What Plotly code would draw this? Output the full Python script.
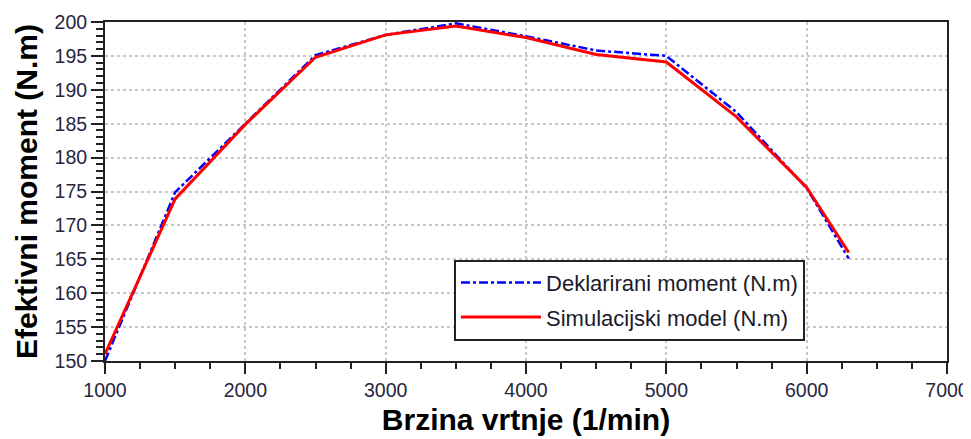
import plotly.graph_objects as go

rpm = [1000, 1500, 2000, 2500, 3000, 3500, 4000, 4500, 5000, 5500, 6000, 6300]
declared = [150.0, 174.9, 185.0, 195.1, 198.1, 199.8, 197.9, 195.8, 195.0, 186.7, 175.5, 165.1]
simulated = [151.0, 173.9, 184.9, 194.8, 198.1, 199.4, 197.7, 195.2, 194.1, 186.0, 175.6, 166.0]

x_ticks = [1000, 2000, 3000, 4000, 5000, 6000, 7000]
y_ticks = [150, 155, 160, 165, 170, 175, 180, 185, 190, 195, 200]

fig = go.Figure()
fig.add_trace(go.Scatter(
    x=rpm, y=declared, mode="lines", name="Deklarirani moment (N.m)",
    line=dict(color="#0000ff", width=2.5, dash="dashdot"), legendgroup="a"))
fig.add_trace(go.Scatter(
    x=rpm, y=simulated, mode="lines", name="Simulacijski model (N.m)",
    line=dict(color="#ff0000", width=3), legendgroup="b"))

FAM = "Liberation Sans, Arial, sans-serif"
tickfont = dict(family=FAM, size=19.5, color="#262640")
titlefont = dict(family=FAM, size=30, color="#000000")

# page body has an 8px default margin: figure sized/offset to compensate
fig.update_layout(
    width=963, height=431,
    margin=dict(l=97, r=24, t=14, b=77.5, autoexpand=False),
    paper_bgcolor="white", plot_bgcolor="white",
    showlegend=True,
    legend=dict(
        x=0.4145, y=0.299, xanchor="left", yanchor="top",
        bgcolor="white", bordercolor="#222222", borderwidth=2,
        font=dict(family=FAM, size=22, color="#1a1a2a"),
        itemwidth=80, tracegroupgap=3,
    ),
    xaxis=dict(
        range=[1000, 7000], tickvals=x_ticks, ticktext=[str(v) for v in x_ticks],
        ticks="outside", ticklen=11, tickwidth=2, tickcolor="#222222",
        minor=dict(dtick=250, ticks="outside", ticklen=6, tickwidth=2, tickcolor="#222222", showgrid=False),
        showline=True, linecolor="#222222", linewidth=2, mirror=True,
        showgrid=True, gridcolor="#c8c8c8", griddash="dot", gridwidth=1.5,
        tickfont=tickfont, automargin=False, ticklabeloverflow="allow",
        title=dict(text="<b>Brzina vrtnje (1/min)</b>", font=titlefont, standoff=9),
        zeroline=False,
    ),
    yaxis=dict(
        range=[150, 200], tickvals=y_ticks, ticktext=[str(v) for v in y_ticks],
        ticks="outside", ticklen=12, tickwidth=2, tickcolor="#222222",
        minor=dict(dtick=1, ticks="outside", ticklen=7, tickwidth=2, tickcolor="#222222", showgrid=False),
        showline=True, linecolor="#222222", linewidth=2, mirror=True,
        showgrid=True, gridcolor="#c8c8c8", griddash="dot", gridwidth=1.5,
        tickfont=tickfont, automargin=False, ticklabeloverflow="allow",
        title=dict(text="<b>Efektivni moment (N.m)</b>", font=titlefont, standoff=8),
        zeroline=False,
    ),
)

fig.write_html("out.html")
